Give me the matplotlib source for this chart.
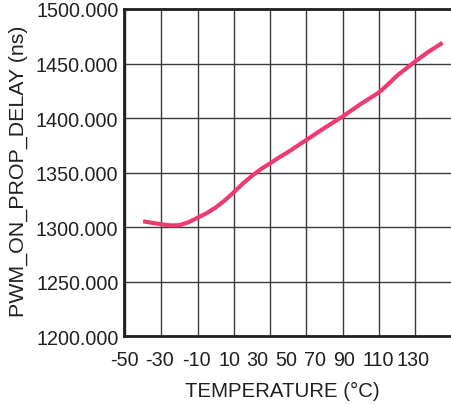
import matplotlib
matplotlib.use("Agg")
import matplotlib.pyplot as plt
import numpy as np

plt.rcParams['font.family'] = ['Liberation Sans', 'DejaVu Sans']

# ---- data ----
temperature = [-40, -35, -30, -25, -20, -15, -10, -5, 0, 5, 10, 15, 20, 25, 30, 35, 40,
               50, 60, 70, 80, 90, 95, 100, 105, 110, 117, 125]
delay_ns = [1305.4, 1304.0, 1302.7, 1301.7, 1301.8, 1304.5, 1308.6, 1312.8, 1318.0, 1324.5,
            1332.0, 1340.0, 1347.0, 1353.3, 1358.5, 1364.0, 1369.0,
            1380.0, 1391.0, 1401.5, 1413.0, 1423.5, 1431.0, 1439.0, 1445.5, 1452.0, 1460.5, 1469.0]
grid_x = [-50, -30, -10, 10, 30, 50, 70, 90, 110, 130]
grid_y = [1200, 1250, 1300, 1350, 1400, 1450, 1500]
xtick_labels = ['-50', '-30', '-10', '10', '30', '50', '70', '90', '110', '130']
ytick_labels = ['1200.000', '1250.000', '1300.000', '1350.000', '1400.000', '1450.000', '1500.000']

# ---- layout ----
xlabel_pos = [-50.5, -30.8, -10.5, 7.6, 23.0, 38.9, 54.8, 70.7, 89.3, 108.5]
W, H = 451, 406
fig = plt.figure(figsize=(W / 100, H / 100), dpi=100)
left, right, bottom, top = 124, 452, 337.3, 10
ax = fig.add_axes([left / W, 1 - bottom / H, (right - left) / W, (bottom - top) / H])

txt = '#231f20'
ax.plot(temperature, delay_ns, color='#ee3a70', lw=3.0, solid_capstyle='butt',
        solid_joinstyle='round', zorder=3)

ax.set_xlim(-50, 130.2)
ax.set_ylim(1200, 1500)

ax.set_xticks(grid_x)
ax.set_xticklabels([])
ax.set_xticks(xlabel_pos, xtick_labels, minor=True)
ax.set_yticks(grid_y, ytick_labels)
ax.tick_params(axis='x', which='both', length=0, pad=10, labelsize=14.2, labelcolor=txt)
ax.tick_params(axis='y', length=0, pad=4, labelsize=14.2, labelcolor=txt)

ax.grid(True, which='major', color='#3a3a3a', lw=1.0, zorder=1)
for side in ['left', 'bottom', 'top']:
    ax.spines[side].set_color('#231f20')
    ax.spines[side].set_linewidth(2.0)
ax.spines['right'].set_visible(False)

ax.set_xlabel('TEMPERATURE (°C)', fontsize=14.7, color=txt)
ax.xaxis.label.set_va('center')
ax.xaxis.set_label_coords((282 - left) / (right - left), (bottom - 391) / (bottom - top))
ax.set_ylabel('PWM_ON_PROP_DELAY (ns)', fontsize=15.4, color=txt)
ax.yaxis.label.set_va('center')
ax.yaxis.set_label_coords((18 - left) / (right - left), (bottom - 171.5) / (bottom - top))

fig.savefig('out.png', dpi=100)
